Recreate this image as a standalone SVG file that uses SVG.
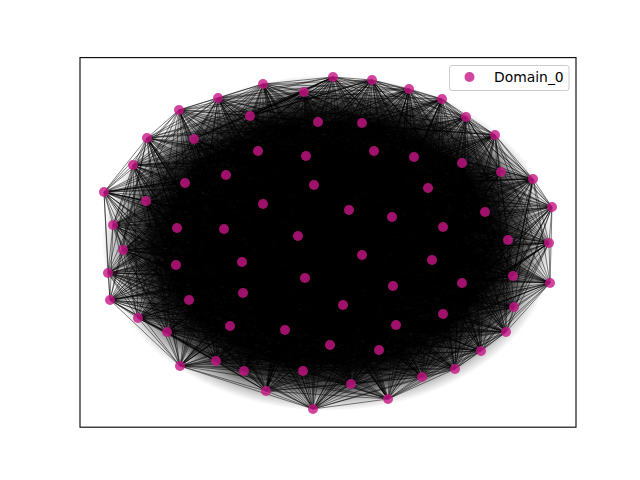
<svg xmlns="http://www.w3.org/2000/svg" width="640" height="480" viewBox="0 0 640 480">
<style>
.e{fill:none;stroke:#000;stroke-opacity:0.5;stroke-width:1;stroke-linejoin:round}
.n{fill:#c71585;fill-opacity:0.8}
</style>
<defs>
<radialGradient id="dk">
<stop offset="0" stop-color="#000" stop-opacity="0.95"/>
<stop offset="0.72" stop-color="#000" stop-opacity="0.9"/>
<stop offset="0.86" stop-color="#000" stop-opacity="0.6"/>
<stop offset="0.96" stop-color="#000" stop-opacity="0.15"/>
<stop offset="1" stop-color="#000" stop-opacity="0"/>
</radialGradient>
<radialGradient id="mk">
<stop offset="0" stop-color="#fff"/>
<stop offset="0.72" stop-color="#fff"/>
<stop offset="0.92" stop-color="#000"/>
</radialGradient>
<mask id="m"><ellipse cx="328" cy="243" rx="224" ry="166" fill="url(#mk)"/></mask>
</defs>
<rect x="0" y="0" width="640" height="480" fill="#fff"/>
<ellipse cx="328" cy="243" rx="226" ry="168" fill="url(#dk)"/>
<g id="edges">
<polygon class="e" points="333,77 372,80 409,89 442,99 466,117 495,135 533,179 552,207 549,243 550,283 514,307 506,332 481,351 455,369 422,377 388,399 351,384 313,409 266,391 244,371 216,361 180,366 167,332 138,318 110,300 108,273 123,250 113,225 104,192 133,165 147,138 179,110 218,98 263,84 304,92"/>
<polygon class="e" points="333,77 409,89 466,117 533,179 549,243 514,307 481,351 422,377 351,384 266,391 216,361 167,332 110,300 123,250 104,192 147,138 218,98 304,92 372,80 442,99 495,135 552,207 550,283 506,332 455,369 388,399 313,409 244,371 180,366 138,318 108,273 113,225 133,165 179,110 263,84"/>
<polygon class="e" points="333,77 442,99 533,179 550,283 481,351 388,399 266,391 180,366 110,300 113,225 147,138 263,84 372,80 466,117 552,207 514,307 455,369 351,384 244,371 167,332 108,273 104,192 179,110 304,92 409,89 495,135 549,243 506,332 422,377 313,409 216,361 138,318 123,250 133,165 218,98"/>
<polygon class="e" points="333,77 466,117 549,243 481,351 351,384 216,361 110,300 104,192 218,98 372,80 495,135 550,283 455,369 313,409 180,366 108,273 133,165 263,84 409,89 533,179 514,307 422,377 266,391 167,332 123,250 147,138 304,92 442,99 552,207 506,332 388,399 244,371 138,318 113,225 179,110"/>
<polygon class="e" points="333,77 533,179 481,351 266,391 110,300 147,138 372,80 552,207 455,369 244,371 108,273 179,110 409,89 549,243 422,377 216,361 123,250 218,98 442,99 550,283 388,399 180,366 113,225 263,84 466,117 514,307 351,384 167,332 104,192 304,92 495,135 506,332 313,409 138,318 133,165"/>
<polygon class="e" points="333,77 549,243 351,384 110,300 218,98 495,135 455,369 180,366 133,165 409,89 514,307 266,391 123,250 304,92 552,207 388,399 138,318 179,110 466,117 481,351 216,361 104,192 372,80 550,283 313,409 108,273 263,84 533,179 422,377 167,332 147,138 442,99 506,332 244,371 113,225"/>
<polygon class="e" points="333,77 550,283 266,391 113,225 372,80 514,307 244,371 104,192 409,89 506,332 216,361 133,165 442,99 481,351 180,366 147,138 466,117 455,369 167,332 179,110 495,135 422,377 138,318 218,98 533,179 388,399 110,300 263,84 552,207 351,384 108,273 304,92 549,243 313,409 123,250"/>
<polygon class="e" points="333,77 506,332 167,332 263,84 550,283 216,361 179,110 552,207 266,391 133,165 495,135 351,384 113,225 442,99 422,377 108,273 372,80 481,351 138,318 304,92 514,307 180,366 218,98 549,243 244,371 147,138 533,179 313,409 104,192 466,117 388,399 123,250 409,89 455,369 110,300"/>
<polygon class="e" points="333,77 481,351 110,300 372,80 455,369 108,273 409,89 422,377 123,250 442,99 388,399 113,225 466,117 351,384 104,192 495,135 313,409 133,165 533,179 266,391 147,138 552,207 244,371 179,110 549,243 216,361 218,98 550,283 180,366 263,84 514,307 167,332 304,92 506,332 138,318"/>
<polygon class="e" points="333,77 455,369 123,250 466,117 313,409 147,138 549,243 180,366 304,92 481,351 108,273 442,99 351,384 133,165 552,207 216,361 263,84 506,332 110,300 409,89 388,399 104,192 533,179 244,371 218,98 514,307 138,318 372,80 422,377 113,225 495,135 266,391 179,110 550,283 167,332"/>
<polygon class="e" points="333,77 351,384 218,98 455,369 133,165 514,307 123,250 552,207 138,318 466,117 216,361 372,80 313,409 263,84 422,377 147,138 506,332 113,225 549,243 110,300 495,135 180,366 409,89 266,391 304,92 388,399 179,110 481,351 104,192 550,283 108,273 533,179 167,332 442,99 244,371"/>
<polygon class="e" points="333,77 313,409 304,92 351,384 263,84 388,399 218,98 422,377 179,110 455,369 147,138 481,351 133,165 506,332 104,192 514,307 113,225 550,283 123,250 549,243 108,273 552,207 110,300 533,179 138,318 495,135 167,332 466,117 180,366 442,99 216,361 409,89 244,371 372,80 266,391"/>
<polyline class="e" points="333,77 250,116 372,80 306,156 409,89 226,175 442,99 263,204 466,117 224,229 495,135 362,255 533,179 462,283 552,207 443,314 549,243 379,350 550,283 194,139 514,307 462,163 506,332 428,188 481,351 485,212 455,369 508,240 422,377 305,278 388,399 189,300 351,384 396,325 313,409 318,122 266,391 374,151 244,371 185,183 216,361 349,210 180,366 298,236 167,332 432,260 138,318 513,276 110,300 230,326 108,273 303,371 123,250 258,151 113,225 501,172 104,192 146,201 133,165 177,228 147,138 242,262 179,110 393,286 218,98 343,305 263,84 330,345 304,92 362,123 333,77 414,157 372,80 314,185 409,89 392,217 442,99 443,227 466,117 176,265 495,135 243,293 533,179 285,330"/>
<polyline class="e" points="333,77 414,157 372,80 485,212 409,89 393,286 442,99 379,350 466,117 501,172 495,135 224,229 533,179 513,276 552,207 250,116 549,243 185,183 550,283 443,227 514,307 189,300 506,332 362,123 481,351 428,188 455,369 242,262 422,377 443,314 388,399 258,151 351,384 263,204 313,409 432,260 266,391 285,330 244,371 374,151 216,361 392,217 180,366 305,278 167,332 330,345 138,318 462,163 110,300 177,228 108,273 462,283 123,250 303,371 113,225 226,175 104,192 298,236 133,165 243,293 147,138 318,122 179,110 314,185 218,98 508,240 263,84 343,305 304,92 194,139 333,77 146,201 372,80 362,255 409,89 230,326 442,99 306,156 466,117 349,210 495,135 176,265 533,179 396,325"/>
<polyline class="e" points="333,77 224,229 372,80 189,300 409,89 258,151 442,99 392,217 466,117 462,283 495,135 318,122 533,179 146,201 552,207 176,265 549,243 379,350 550,283 185,183 514,307 242,262 506,332 285,330 481,351 462,163 455,369 298,236 422,377 343,305 388,399 306,156 351,384 485,212 313,409 513,276 266,391 362,123 244,371 263,204 216,361 305,278 180,366 303,371 167,332 314,185 138,318 362,255 110,300 396,325 108,273 501,172 123,250 443,227 113,225 443,314 104,192 374,151 133,165 177,228 147,138 243,293 179,110 194,139 218,98 349,210 263,84 393,286 304,92 250,116 333,77 428,188 372,80 432,260 409,89 330,345 442,99 226,175 466,117 508,240 495,135 230,326 533,179 414,157"/>
<polyline class="e" points="313,409 462,283 266,391 306,156 244,371 443,227 216,361 330,345 180,366 146,201 167,332 513,276 138,318 374,151 110,300 508,240 108,273 379,350 123,250 263,204 113,225 243,293 104,192 414,157 133,165 242,262 147,138 303,371 179,110 349,210 218,98 189,300 263,84 462,163 304,92 362,255 333,77 250,116 372,80 392,217 409,89 343,305 442,99 501,172 466,117 432,260 495,135 318,122 533,179 485,212 552,207 443,314 549,243 226,175 550,283 176,265 514,307 362,123 506,332 177,228 481,351 230,326 455,369 185,183 422,377 305,278 388,399 194,139 351,384 224,229 313,409 285,330 266,391 314,185 244,371 393,286 216,361 258,151 180,366 298,236 167,332 396,325 138,318 428,188"/>
<polyline class="e" points="304,92 194,139 263,84 443,227 218,98 303,371 179,110 485,212 147,138 285,330 133,165 146,201 104,192 189,300 113,225 226,175 123,250 393,286 108,273 374,151 110,300 362,255 138,318 362,123 167,332 298,236 180,366 379,350 216,361 392,217 244,371 230,326 266,391 428,188 313,409 243,293 351,384 501,172 388,399 305,278 422,377 306,156 455,369 242,262 481,351 318,122 506,332 224,229 514,307 330,345 550,283 349,210 549,243 443,314 552,207 314,185 533,179 513,276 495,135 462,163 466,117 176,265 442,99 258,151 409,89 508,240 372,80 250,116 333,77 177,228 304,92 396,325 263,84 263,204 218,98 343,305 179,110 185,183 147,138 462,283 133,165 414,157 104,192 432,260"/>
<polyline class="e" points="313,409 185,183 351,384 343,305 388,399 263,204 422,377 396,325 455,369 177,228 481,351 250,116 506,332 508,240 514,307 258,151 550,283 176,265 549,243 462,163 552,207 513,276 533,179 314,185 495,135 443,314 466,117 349,210 442,99 330,345 409,89 224,229 372,80 318,122 333,77 242,262 304,92 306,156 263,84 305,278 218,98 501,172 179,110 243,293 147,138 428,188 133,165 230,326 104,192 392,217 113,225 379,350 123,250 298,236 108,273 362,123 110,300 362,255 138,318 374,151 167,332 393,286 180,366 226,175 216,361 189,300 244,371 146,201 266,391 285,330 313,409 485,212 351,384 303,371 388,399 443,227 422,377 194,139 455,369 432,260 481,351 414,157 506,332 462,283"/>
<polygon class="e" points="250,116 306,156 226,175 263,204 224,229 362,255 462,283 443,314 379,350 194,139 462,163 428,188 485,212 508,240 305,278 189,300 396,325 318,122 374,151 185,183 349,210 298,236 432,260 513,276 230,326 303,371 258,151 501,172 146,201 177,228 242,262 393,286 343,305 330,345 362,123 414,157 314,185 392,217 443,227 176,265 243,293 285,330"/>
<polygon class="e" points="414,157 485,212 393,286 379,350 501,172 224,229 513,276 250,116 185,183 443,227 189,300 362,123 428,188 242,262 443,314 258,151 263,204 432,260 285,330 374,151 392,217 305,278 330,345 462,163 177,228 462,283 303,371 226,175 298,236 243,293 318,122 314,185 508,240 343,305 194,139 146,201 362,255 230,326 306,156 349,210 176,265 396,325"/>
<polygon class="e" points="224,229 189,300 258,151 392,217 462,283 318,122 146,201 176,265 379,350 185,183 242,262 285,330 462,163 298,236 343,305 306,156 485,212 513,276 362,123 263,204 305,278 303,371 314,185 362,255 396,325 501,172 443,227 443,314 374,151 177,228 243,293 194,139 349,210 393,286 250,116 428,188 432,260 330,345 226,175 508,240 230,326 414,157"/>
<polygon class="e" points="462,283 306,156 443,227 330,345 146,201 513,276 374,151 508,240 379,350 263,204 243,293 414,157 242,262 303,371 349,210 189,300 462,163 362,255 250,116 392,217 343,305 501,172 432,260 318,122 485,212 443,314 226,175 176,265 362,123 177,228 230,326 185,183 305,278 194,139 224,229 285,330 314,185 393,286 258,151 298,236 396,325 428,188"/>
<polygon class="e" points="194,139 443,227 303,371 485,212 285,330 146,201 189,300 226,175 393,286 374,151 362,255 362,123 298,236 379,350 392,217 230,326 428,188 243,293 501,172 305,278 306,156 242,262 318,122 224,229 330,345 349,210 443,314 314,185 513,276 462,163 176,265 258,151 508,240 250,116 177,228 396,325 263,204 343,305 185,183 462,283 414,157 432,260"/>
<polygon class="e" points="185,183 343,305 263,204 396,325 177,228 250,116 508,240 258,151 176,265 462,163 513,276 314,185 443,314 349,210 330,345 224,229 318,122 242,262 306,156 305,278 501,172 243,293 428,188 230,326 392,217 379,350 298,236 362,123 362,255 374,151 393,286 226,175 189,300 146,201 285,330 485,212 303,371 443,227 194,139 432,260 414,157 462,283"/>
</g>
<g mask="url(#m)">
<use href="#edges" transform="rotate(180 328 243)"/>
<use href="#edges" transform="matrix(-1 0 0 1 656 0)"/>
</g>
<g id="nodes">
<g id="o0"><circle class="n" cx="333" cy="77" r="5"/></g>
<g id="o1"><circle class="n" cx="372" cy="80" r="5"/></g>
<g id="o2"><circle class="n" cx="409" cy="89" r="5"/></g>
<g id="o3"><circle class="n" cx="442" cy="99" r="5"/></g>
<g id="o4"><circle class="n" cx="466" cy="117" r="5"/></g>
<g id="o5"><circle class="n" cx="495" cy="135" r="5"/></g>
<g id="o6"><circle class="n" cx="533" cy="179" r="5"/></g>
<g id="o7"><circle class="n" cx="552" cy="207" r="5"/></g>
<g id="o8"><circle class="n" cx="549" cy="243" r="5"/></g>
<g id="o9"><circle class="n" cx="550" cy="283" r="5"/></g>
<g id="o10"><circle class="n" cx="514" cy="307" r="5"/></g>
<g id="o11"><circle class="n" cx="506" cy="332" r="5"/></g>
<g id="o12"><circle class="n" cx="481" cy="351" r="5"/></g>
<g id="o13"><circle class="n" cx="455" cy="369" r="5"/></g>
<g id="o14"><circle class="n" cx="422" cy="377" r="5"/></g>
<g id="o15"><circle class="n" cx="388" cy="399" r="5"/></g>
<g id="o16"><circle class="n" cx="351" cy="384" r="5"/></g>
<g id="o17"><circle class="n" cx="313" cy="409" r="5"/></g>
<g id="o18"><circle class="n" cx="266" cy="391" r="5"/></g>
<g id="o19"><circle class="n" cx="244" cy="371" r="5"/></g>
<g id="o20"><circle class="n" cx="216" cy="361" r="5"/></g>
<g id="o21"><circle class="n" cx="180" cy="366" r="5"/></g>
<g id="o22"><circle class="n" cx="167" cy="332" r="5"/></g>
<g id="o23"><circle class="n" cx="138" cy="318" r="5"/></g>
<g id="o24"><circle class="n" cx="110" cy="300" r="5"/></g>
<g id="o25"><circle class="n" cx="108" cy="273" r="5"/></g>
<g id="o26"><circle class="n" cx="123" cy="250" r="5"/></g>
<g id="o27"><circle class="n" cx="113" cy="225" r="5"/></g>
<g id="o28"><circle class="n" cx="104" cy="192" r="5"/></g>
<g id="o29"><circle class="n" cx="133" cy="165" r="5"/></g>
<g id="o30"><circle class="n" cx="147" cy="138" r="5"/></g>
<g id="o31"><circle class="n" cx="179" cy="110" r="5"/></g>
<g id="o32"><circle class="n" cx="218" cy="98" r="5"/></g>
<g id="o33"><circle class="n" cx="263" cy="84" r="5"/></g>
<g id="o34"><circle class="n" cx="304" cy="92" r="5"/></g>
<g id="i0"><circle class="n" cx="250" cy="116" r="5"/></g>
<g id="i1"><circle class="n" cx="318" cy="122" r="5"/></g>
<g id="i2"><circle class="n" cx="362" cy="123" r="5"/></g>
<g id="i3"><circle class="n" cx="194" cy="139" r="5"/></g>
<g id="i4"><circle class="n" cx="258" cy="151" r="5"/></g>
<g id="i5"><circle class="n" cx="306" cy="156" r="5"/></g>
<g id="i6"><circle class="n" cx="374" cy="151" r="5"/></g>
<g id="i7"><circle class="n" cx="414" cy="157" r="5"/></g>
<g id="i8"><circle class="n" cx="462" cy="163" r="5"/></g>
<g id="i9"><circle class="n" cx="501" cy="172" r="5"/></g>
<g id="i10"><circle class="n" cx="226" cy="175" r="5"/></g>
<g id="i11"><circle class="n" cx="185" cy="183" r="5"/></g>
<g id="i12"><circle class="n" cx="314" cy="185" r="5"/></g>
<g id="i13"><circle class="n" cx="428" cy="188" r="5"/></g>
<g id="i14"><circle class="n" cx="146" cy="201" r="5"/></g>
<g id="i15"><circle class="n" cx="263" cy="204" r="5"/></g>
<g id="i16"><circle class="n" cx="349" cy="210" r="5"/></g>
<g id="i17"><circle class="n" cx="392" cy="217" r="5"/></g>
<g id="i18"><circle class="n" cx="485" cy="212" r="5"/></g>
<g id="i19"><circle class="n" cx="177" cy="228" r="5"/></g>
<g id="i20"><circle class="n" cx="224" cy="229" r="5"/></g>
<g id="i21"><circle class="n" cx="298" cy="236" r="5"/></g>
<g id="i22"><circle class="n" cx="443" cy="227" r="5"/></g>
<g id="i23"><circle class="n" cx="508" cy="240" r="5"/></g>
<g id="i24"><circle class="n" cx="242" cy="262" r="5"/></g>
<g id="i25"><circle class="n" cx="362" cy="255" r="5"/></g>
<g id="i26"><circle class="n" cx="432" cy="260" r="5"/></g>
<g id="i27"><circle class="n" cx="176" cy="265" r="5"/></g>
<g id="i28"><circle class="n" cx="305" cy="278" r="5"/></g>
<g id="i29"><circle class="n" cx="393" cy="286" r="5"/></g>
<g id="i30"><circle class="n" cx="462" cy="283" r="5"/></g>
<g id="i31"><circle class="n" cx="513" cy="276" r="5"/></g>
<g id="i32"><circle class="n" cx="243" cy="293" r="5"/></g>
<g id="i33"><circle class="n" cx="189" cy="300" r="5"/></g>
<g id="i34"><circle class="n" cx="343" cy="305" r="5"/></g>
<g id="i35"><circle class="n" cx="443" cy="314" r="5"/></g>
<g id="i36"><circle class="n" cx="230" cy="326" r="5"/></g>
<g id="i37"><circle class="n" cx="285" cy="330" r="5"/></g>
<g id="i38"><circle class="n" cx="396" cy="325" r="5"/></g>
<g id="i39"><circle class="n" cx="330" cy="345" r="5"/></g>
<g id="i40"><circle class="n" cx="379" cy="350" r="5"/></g>
<g id="i41"><circle class="n" cx="303" cy="371" r="5"/></g>
</g>
<rect x="80" y="57.6" width="496" height="369.6" fill="none" stroke="#000" stroke-width="1.1"/>
<g id="legend">
<rect x="449.5" y="65.5" width="119.5" height="25" rx="2.5" fill="#fff" fill-opacity="0.8" stroke="#cccccc" stroke-width="1"/>
<circle class="n" cx="469.5" cy="77" r="5"/>
<text x="494" y="82" font-family="DejaVu Sans, sans-serif" font-size="13.9" fill="#000">Domain_0</text>
</g>
</svg>
